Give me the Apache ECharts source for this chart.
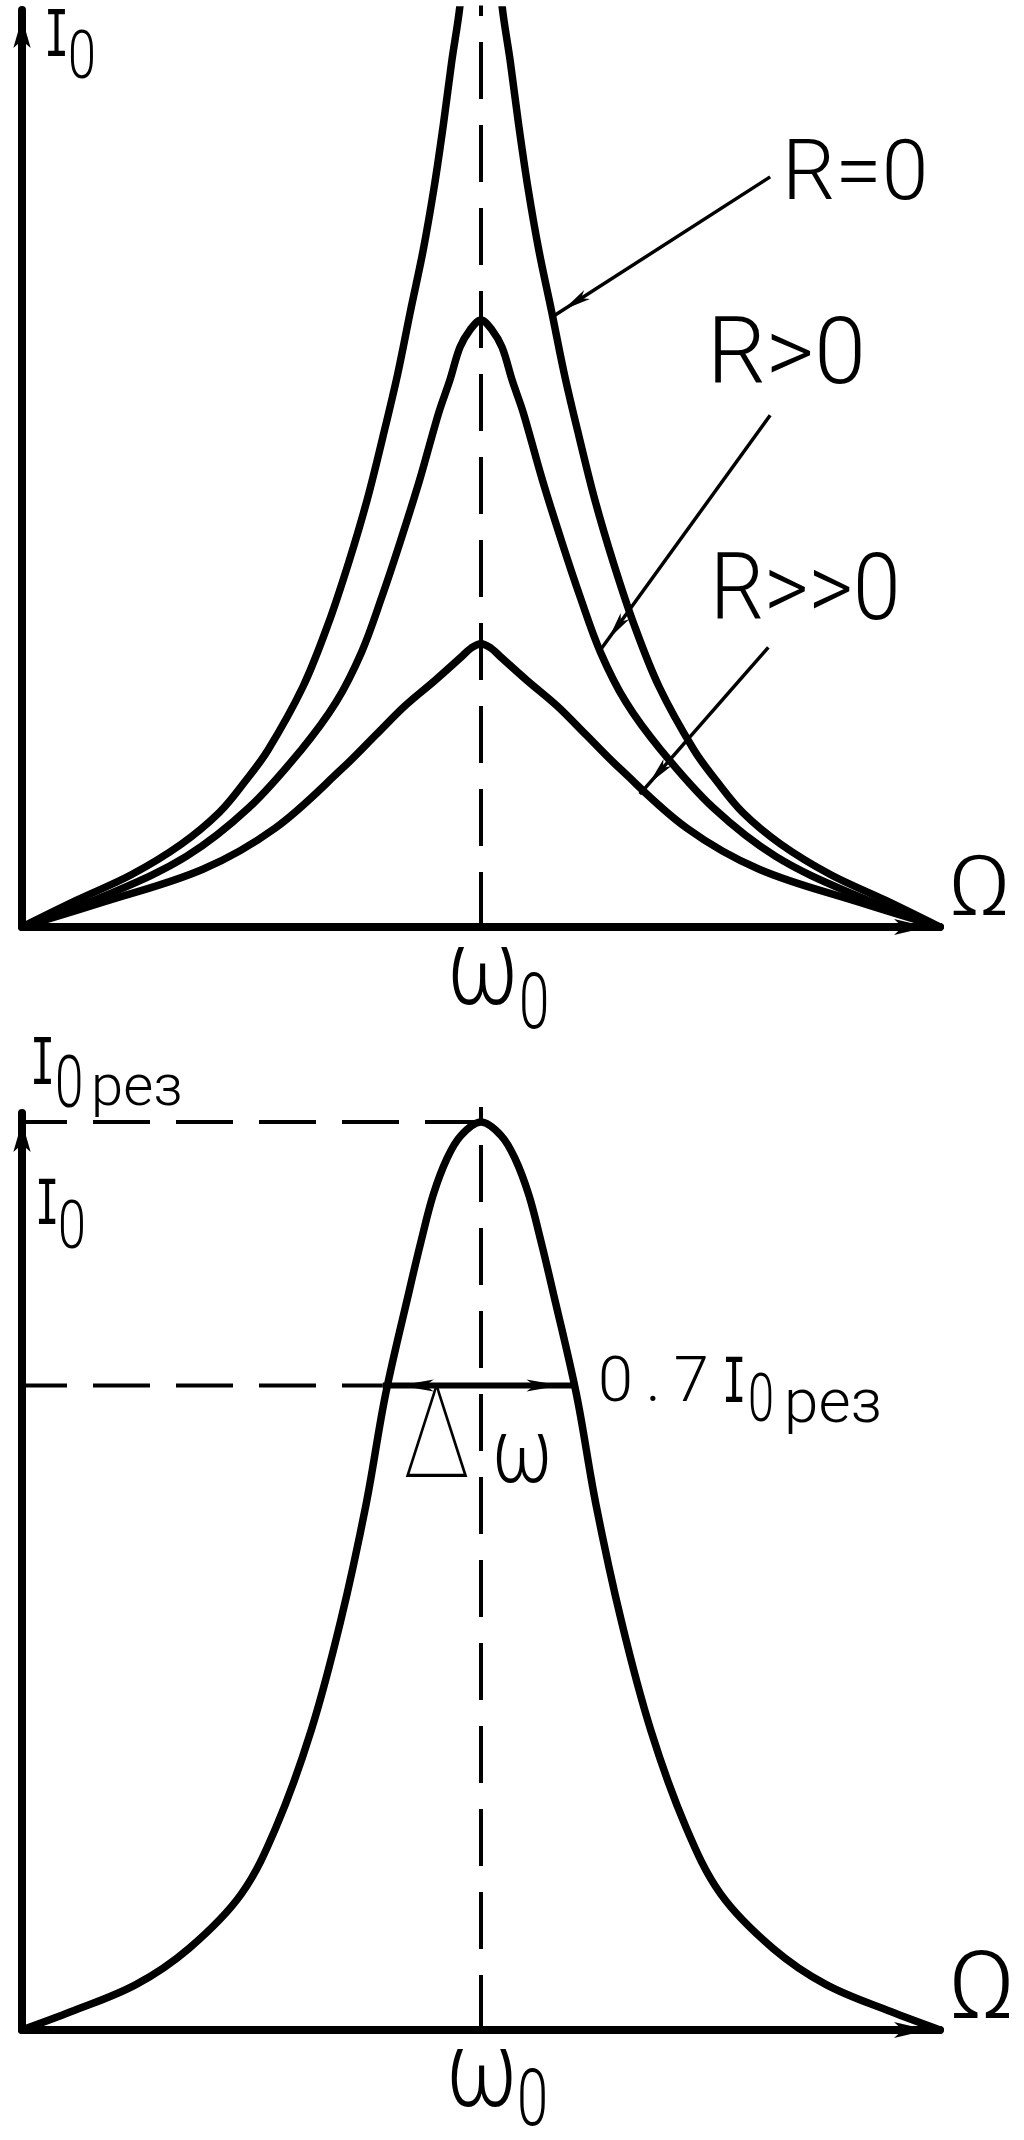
<!DOCTYPE html>
<html>
<head>
<meta charset="utf-8">
<title>Резонансные кривые</title>
<script src="https://cdn.jsdelivr.net/npm/echarts@6/dist/echarts.min.js"></script>
<style>
  html, body { margin: 0; padding: 0; background: #fff; }
  #chart { width: 1024px; height: 2140px; }
</style>
</head>
<body>
<div id="chart"></div>
<script>
// частота: 0..100, резонанс w0 = 50; ток в условных единицах
const omegaRes = 50;

// верхний график: I0(Ω) при разном R (точки)
const curveR0 = [[0,0],[5.9,2.9],[11.9,5.7],[17.3,9.0],[21.5,12.5],[24.4,16.0],[26.8,19.3],[30.6,26.2],[33.3,32.9],[35.6,39.8],[37.6,46.6],[39.3,53.4],[40.9,60.2],[42.3,67.1],[43.7,73.8],[44.9,80.7],[45.9,87.5],[46.8,94.3],[47.7,100.4],[48.6,110],[50,125],[51.4,110],[52.3,100.4],[53.2,94.3],[54.1,87.5],[55.1,80.7],[56.3,73.8],[57.7,67.1],[59.1,60.2],[60.7,53.4],[62.4,46.6],[64.4,39.8],[66.7,32.9],[69.4,26.2],[73.2,19.3],[75.6,16.0],[78.5,12.5],[82.7,9.0],[88.1,5.7],[94.1,2.9],[100,0]];
const curveR1 = [[0,0],[9.5,3.6],[17.9,7.7],[24.7,13.0],[30.4,19.3],[34.2,24.5],[37.0,30.0],[39.2,36.0],[41.2,42.0],[43.3,48.7],[45.4,56.1],[46.6,59.6],[47.7,63.2],[48.8,65.1],[50,66.2],[51.2,65.1],[52.3,63.2],[53.4,59.6],[54.6,56.1],[56.7,48.7],[58.8,42.0],[60.8,36.0],[63.0,30.0],[65.8,24.5],[69.6,19.3],[75.3,13.0],[82.1,7.7],[90.5,3.6],[100,0]];
const curveR2 = [[0,0],[8.8,2.7],[19.7,6.3],[27.6,10.8],[34.9,17.3],[38.6,21.0],[41.7,24.1],[45.0,26.9],[47.8,29.4],[48.9,30.4],[50,30.9],[51.1,30.4],[52.2,29.4],[55.0,26.9],[58.3,24.1],[61.4,21.0],[65.1,17.3],[72.4,10.8],[80.3,6.3],[91.2,2.7],[100,0]];

// выноски к подписям R: [начало у подписи, конец у кривой]
const leaderR0 = [[81.5, 81.8], [57.7, 66.5]];
const leaderR1 = [[81.5, 55.8], [63.0, 30.2]];
const leaderR2 = [[81.3, 30.5], [67.3, 14.5]];

// нижний график: резонансная кривая, I0рез = 1
const curveRes = [[0,0],[5.3,0.02],[12.4,0.05],[18.2,0.09],[23.9,0.15],[27.7,0.224],[31.5,0.33],[34.7,0.45],[37.5,0.58],[39.6,0.70],[42.2,0.815],[43.5,0.87],[44.8,0.92],[46.3,0.96],[47.8,0.985],[50,1.0],[52.2,0.985],[53.7,0.96],[55.2,0.92],[56.5,0.87],[57.8,0.815],[60.4,0.70],[62.5,0.58],[65.3,0.45],[68.5,0.33],[72.3,0.224],[76.1,0.15],[81.8,0.09],[87.6,0.05],[94.7,0.02],[100,0]];
const peakLevel = 1.0;
const bandLevel = 0.71;          // 0.7 I0рез
const bandEdges = [39.3, 60.5];  // границы полосы пропускания

const topGrid = { left: 22, top: 10, width: 918, height: 917 };
const botGrid = { left: 22, top: 1113, width: 918, height: 917 };

const black = '#000';
const dash = [57, 26];

function axisX(gi) {
  return {
    gridIndex: gi, type: 'value', min: 0, max: 100,
    axisLine: { show: true, onZero: false, symbol: ['none', 'arrow'], symbolSize: [12, 34], symbolOffset: [0, -12],
      lineStyle: { color: black, width: 8 } },
    axisTick: { show: false }, axisLabel: { show: false }, splitLine: { show: false }
  };
}
function axisY(gi, max, off) {
  return {
    gridIndex: gi, type: 'value', min: 0, max: max,
    axisLine: { show: true, onZero: false, symbol: ['none', 'arrow'], symbolSize: [13, 30], symbolOffset: [0, off],
      lineStyle: { color: black, width: 8 } },
    axisTick: { show: false }, axisLabel: { show: false }, splitLine: { show: false }
  };
}

function curve(data, gi) {
  return {
    type: 'line', xAxisIndex: gi, yAxisIndex: gi, data: data, smooth: 0.35,
    showSymbol: false, silent: true,
    lineStyle: { color: black, width: 7.5, cap: 'round', join: 'round' }
  };
}
function dashed(data, gi, offset) {
  return {
    type: 'line', xAxisIndex: gi, yAxisIndex: gi, data: data, clip: false,
    showSymbol: false, silent: true,
    lineStyle: { color: black, width: 4, type: dash, dashOffset: offset }
  };
}

// стрелка на конце выноски: поворот и сдвиг так, чтобы острие было в точке
function leader(pts, grid) {
  const kx = grid.width / 100, ky = grid.height / 100;
  const dx = (pts[1][0] - pts[0][0]) * kx, dy = -(pts[1][1] - pts[0][1]) * ky;
  const len = Math.sqrt(dx * dx + dy * dy), ux = dx / len, uy = dy / len;
  const rot = Math.atan2(-ux, -uy) * 180 / Math.PI;
  return {
    type: 'line', xAxisIndex: 0, yAxisIndex: 0, silent: true, showSymbol: true,
    data: [
      { value: pts[0], symbol: 'none' },
      { value: pts[1], symbol: 'arrow', symbolSize: [8, 28], symbolRotate: rot, symbolOffset: [-ux * 14, -uy * 14] }
    ],
    itemStyle: { color: black },
    lineStyle: { color: black, width: 3.5 }
  };
}

function label(text, x, y, size, o) {
  o = o || {};
  return {
    type: 'text', x: x, y: y, scaleX: o.sx || 1, scaleY: o.sy || 1, silent: true,
    style: {
      text: text, fill: black,
      font: (o.w || 300) + ' ' + size + 'px ' + (o.f || 'Roboto, "DejaVu Sans"'),
      align: 'left', verticalAlign: 'middle', textAlign: 'left', textVerticalAlign: 'middle'
    }
  };
}
const mono = { f: '"DejaVu Sans Mono", "Liberation Mono"', w: 400, sx: 0.65 };

const chart = echarts.init(document.getElementById('chart'), null, { renderer: 'canvas' });

chart.setOption({
  backgroundColor: '#fff',
  animation: false,
  grid: [topGrid, botGrid],
  xAxis: [axisX(0), axisX(1)],
  yAxis: [axisY(0, 100, -8), axisY(1, 1.01, -9)],
  series: [
    curve(curveR0, 0),
    curve(curveR1, 0),
    curve(curveR2, 0),
    dashed([[omegaRes, 0], [omegaRes, 100.5]], 0, 2),
    leader(leaderR0, topGrid),
    leader(leaderR1, topGrid),
    leader(leaderR2, topGrid),

    curve(curveRes, 1),
    dashed([[omegaRes, 0], [omegaRes, 1.0165]], 1, 2),
    dashed([[0, peakLevel], [omegaRes, peakLevel]], 1, 12),
    dashed([[0, bandLevel], [bandEdges[0], bandLevel]], 1, 12),
    {
      type: 'line', xAxisIndex: 1, yAxisIndex: 1, silent: true, showSymbol: true,
      data: [
        { value: [bandEdges[0], bandLevel], symbol: 'arrow', symbolSize: [9, 34], symbolRotate: 90, symbolOffset: [17, 0] },
        { value: [bandEdges[1], bandLevel], symbol: 'arrow', symbolSize: [9, 34], symbolRotate: -90, symbolOffset: [-17, 0] }
      ],
      itemStyle: { color: black },
      lineStyle: { color: black, width: 6 }
    }
  ],
  graphic: [
    // верхний график
    label('I', 44, 39, 64, mono),
    label('0', 68, 61, 67, { sx: 0.75 }),
    label('R=0', 782, 178, 84),
    label('R>0', 707, 360, 93),
    label('R>>0', 710, 596, 93, { sx: 0.92 }),
    label('Ω', 948, 894, 84, { sx: 1.15 }),
    label('ω', 447, 977, 108, { sx: 0.8 }),
    label('0', 519, 1008, 78, { sx: 0.7 }),
    // нижний график
    label('I', 30, 1067, 64, mono),
    label('0', 55, 1089, 73, { sx: 0.7 }),
    label('рез', 91, 1090, 58),
    label('I', 35, 1208, 62, mono),
    label('0', 58, 1231, 67, { sx: 0.75 }),
    label('0\u2009.\u20097', 598, 1385, 63),
    label('I', 722, 1386, 62, mono),
    label('0', 748, 1404, 67, { sx: 0.7 }),
    label('рез', 784, 1406, 62),
    label('Δ', 403, 1445, 128, { w: 100, sx: 0.76 }),
    label('ω', 492, 1459, 91, { sx: 0.8 }),
    label('Ω', 948, 1994, 94, { sx: 1.1 }),
    label('ω', 446, 2079, 108, { sx: 0.8 }),
    label('0', 517, 2105, 80, { sx: 0.7 })
  ]
});
</script>
</body>
</html>
